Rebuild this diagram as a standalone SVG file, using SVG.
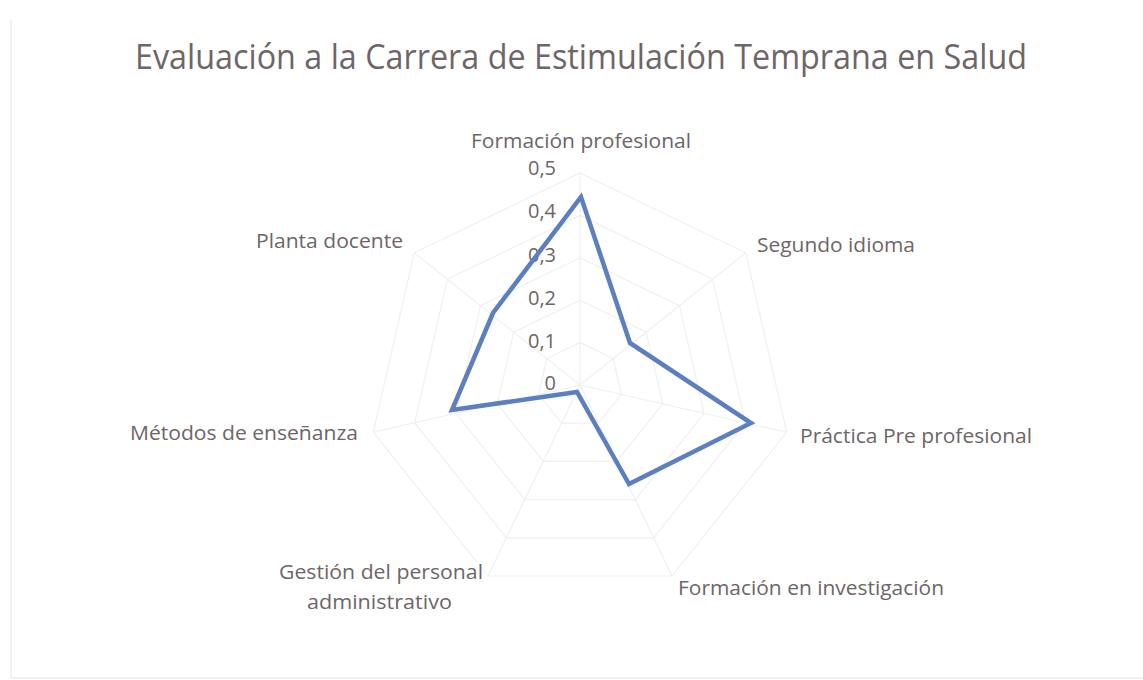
<svg xmlns="http://www.w3.org/2000/svg" width="1143" height="680" viewBox="0 0 1143 680">
<style>
.t{font-family:"Open Sans","Liberation Sans",sans-serif;fill:#6e6567}
.lbl{font-size:20px}
.tick{font-size:20px;text-anchor:end}
.ring{fill:none;stroke:#f0f0f0;stroke-width:1.2}
.spoke{stroke:#f0f0f0;stroke-width:1.2}
.frame{stroke:#ececec;stroke-width:1.5}
</style>
<rect width="1143" height="680" fill="#ffffff"/>
<line class="frame" x1="11" y1="20" x2="11" y2="678"/>
<line class="frame" x1="11" y1="678" x2="1143" y2="678"/>
<text class="t" x="135" y="69" font-size="34" textLength="892" lengthAdjust="spacingAndGlyphs">Evaluación a la Carrera de Estimulación Temprana en Salud</text>
<g id="grid">
<polygon class="ring" points="580,342.6 613.15,358.56 621.34,394.43 598.4,423.2 561.6,423.2 538.66,394.43 546.85,358.56"/>
<polygon class="ring" points="580,300.2 646.3,332.13 662.67,403.87 616.79,461.4 543.21,461.4 497.33,403.87 513.7,332.13"/>
<polygon class="ring" points="580,257.8 679.45,305.69 704.01,413.3 635.19,499.61 524.81,499.61 455.99,413.3 480.55,305.69"/>
<polygon class="ring" points="580,215.4 712.59,279.25 745.34,422.74 653.59,537.81 506.41,537.81 414.66,422.74 447.41,279.25"/>
<polygon class="ring" points="580,173 745.74,252.82 786.68,432.17 671.99,576.01 488.01,576.01 373.32,432.17 414.26,252.82"/>
<line class="spoke" x1="580" y1="385" x2="580" y2="173"/>
<line class="spoke" x1="580" y1="385" x2="745.74" y2="252.82"/>
<line class="spoke" x1="580" y1="385" x2="786.68" y2="432.17"/>
<line class="spoke" x1="580" y1="385" x2="671.99" y2="576.01"/>
<line class="spoke" x1="580" y1="385" x2="488.01" y2="576.01"/>
<line class="spoke" x1="580" y1="385" x2="373.32" y2="432.17"/>
<line class="spoke" x1="580" y1="385" x2="414.26" y2="252.82"/>
</g>
<g id="ticks">
<text class="t tick" x="556" y="175">0,5</text>
<text class="t tick" x="556" y="218">0,4</text>
<text class="t tick" x="556" y="262">0,3</text>
<text class="t tick" x="556" y="305">0,2</text>
<text class="t tick" x="556" y="348">0,1</text>
<text class="t tick" x="556" y="390">0</text>
</g>
<g id="series">
<polygon points="581,197 630,343 751,423 629,484 577,392 452,410 493,313" fill="none" stroke="#5b7fc0" stroke-width="4.5" stroke-linejoin="miter"/>
</g>
<g id="n-formacion-profesional"><text class="t lbl" x="471" y="148" textLength="220" lengthAdjust="spacingAndGlyphs">Formación profesional</text></g>
<g id="n-segundo-idioma"><text class="t lbl" x="757" y="252" textLength="158" lengthAdjust="spacingAndGlyphs">Segundo idioma</text></g>
<g id="n-practica"><text class="t lbl" x="800" y="443" textLength="232" lengthAdjust="spacingAndGlyphs">Práctica Pre profesional</text></g>
<g id="n-investigacion"><text class="t lbl" x="678" y="595" textLength="266" lengthAdjust="spacingAndGlyphs">Formación en investigación</text></g>
<g id="n-gestion"><text class="t lbl" x="279" y="579" textLength="204" lengthAdjust="spacingAndGlyphs">Gestión del personal</text><text class="t lbl" x="307" y="609" textLength="145" lengthAdjust="spacingAndGlyphs">administrativo</text></g>
<g id="n-metodos"><text class="t lbl" x="130" y="440" textLength="228" lengthAdjust="spacingAndGlyphs">Métodos de enseñanza</text></g>
<g id="n-planta"><text class="t lbl" x="256" y="248" textLength="147" lengthAdjust="spacingAndGlyphs">Planta docente</text></g>
</svg>
